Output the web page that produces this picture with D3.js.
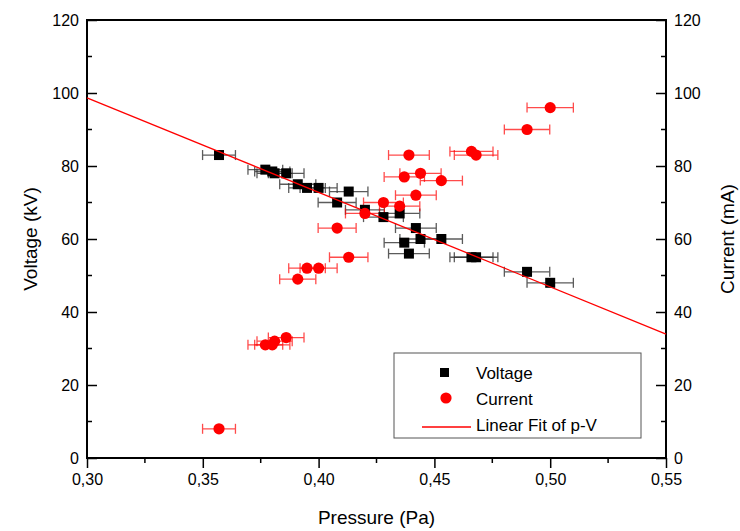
<!DOCTYPE html>
<html>
<head>
<meta charset="utf-8">
<script src="https://cdn.jsdelivr.net/npm/d3@7"></script>
<style>
  body { margin: 0; background: #fff; }
  svg { font-family: "Liberation Sans", Arial, sans-serif; }
</style>
</head>
<body>
<div id="chart"></div>
<script>
(function () {
    'use strict'

    var pressure = [0.357, 0.377, 0.380, 0.381, 0.386, 0.391, 0.395, 0.400, 0.408, 0.413, 0.420,
                    0.428, 0.435, 0.437, 0.439, 0.442, 0.444, 0.453, 0.466, 0.468, 0.490, 0.500]
    var voltage = [83, 79, 78.5, 78, 78, 75, 74, 74, 70, 73, 68, 66, 67, 59, 56, 63, 60, 60, 55, 55, 51, 48]
    var current = [8, 31, 31, 32, 33, 49, 52, 52, 63, 55, 67, 70, 69, 77, 83, 72, 78, 76, 84, 83, 90, 96]
    var pressureErr = [0.0071, 0.0075, 0.0076, 0.0076, 0.0077, 0.0078, 0.0079, 0.0080, 0.0082, 0.0083, 0.0084,
                       0.0086, 0.0087, 0.0087, 0.0088, 0.0088, 0.0089, 0.0091, 0.0093, 0.0094, 0.0098, 0.0100]

    // linear fit of p-V
    var fitIntercept = 176.3
    var fitSlope = -258.8

    var xTicks = [0.30, 0.35, 0.40, 0.45, 0.50, 0.55]
    var yTicks = [0, 20, 40, 60, 80, 100, 120]

    var width = 740, height = 531
    var margin = { top: 20, right: 74, bottom: 73, left: 87 }

    var svg = d3.select('#chart').append('svg')
        .attr('width', width)
        .attr('height', height)

    var x = d3.scaleLinear().domain([0.30, 0.55]).range([margin.left, width - margin.right])
    var yV = d3.scaleLinear().domain([0, 120]).range([height - margin.bottom, margin.top])
    var yI = d3.scaleLinear().domain([0, 120]).range([height - margin.bottom, margin.top])

    var comma = d3.formatLocale({ decimal: ',', thousands: '.', grouping: [3], currency: ['', ''] })
    var fmtX = comma.format('.2f')

    var x0 = margin.left, x1 = width - margin.right
    var y0 = height - margin.bottom, y1 = margin.top

    // frame
    svg.append('rect')
        .attr('x', x0).attr('y', y1)
        .attr('width', x1 - x0).attr('height', y0 - y1)
        .attr('fill', 'none').attr('stroke', '#000').attr('stroke-width', 2)

    // bottom axis (ticks out)
    var xAxis = d3.axisBottom(x).tickValues(xTicks).tickFormat(fmtX).tickSize(10).tickPadding(6)
    var gx = svg.append('g').attr('transform', 'translate(0,' + y0 + ')').call(xAxis)
    gx.append('g').selectAll('line')
        .data(d3.range(0.325, 0.55, 0.05))
        .enter().append('line')
        .attr('x1', function (d) { return x(d) }).attr('x2', function (d) { return x(d) })
        .attr('y1', 0).attr('y2', 5)
        .attr('stroke', '#000').attr('stroke-width', 1.5)

    // left axis (ticks in)
    var yAxisL = d3.axisLeft(yV).tickValues(yTicks).tickSize(-10).tickPadding(10)
    var gyl = svg.append('g').attr('transform', 'translate(' + x0 + ',0)').call(yAxisL)
    gyl.append('g').selectAll('line')
        .data(d3.range(10, 120, 20))
        .enter().append('line')
        .attr('y1', function (d) { return yV(d) }).attr('y2', function (d) { return yV(d) })
        .attr('x1', 0).attr('x2', 5)
        .attr('stroke', '#000').attr('stroke-width', 1.5)

    // right axis (ticks in)
    var yAxisR = d3.axisRight(yI).tickValues(yTicks).tickSize(-10).tickPadding(10)
    var gyr = svg.append('g').attr('transform', 'translate(' + x1 + ',0)').call(yAxisR)
    gyr.append('g').selectAll('line')
        .data(d3.range(10, 120, 20))
        .enter().append('line')
        .attr('y1', function (d) { return yI(d) }).attr('y2', function (d) { return yI(d) })
        .attr('x1', 0).attr('x2', -5)
        .attr('stroke', '#000').attr('stroke-width', 1.5)

    svg.selectAll('.domain').remove()
    svg.selectAll('.tick line').attr('stroke-width', 1.5)
    svg.selectAll('.tick text')
        .attr('font-size', 16)
        .attr('font-family', '"Liberation Sans", Arial, sans-serif')
        .attr('fill', '#000')
    gyl.selectAll('.tick text').attr('x', -8)
    gyr.selectAll('.tick text').attr('x', 8)

    // axis titles
    svg.append('text')
        .attr('x', (x0 + x1) / 2).attr('y', 524)
        .attr('text-anchor', 'middle').attr('font-size', 19)
        .text('Pressure (Pa)')
    svg.append('text')
        .attr('transform', 'translate(37,' + (y0 + y1) / 2 + ') rotate(-90)')
        .attr('text-anchor', 'middle').attr('font-size', 19)
        .text('Voltage (kV)')
    svg.append('text')
        .attr('transform', 'translate(734,' + (y0 + y1) / 2 + ') rotate(-90)')
        .attr('text-anchor', 'middle').attr('font-size', 19)
        .text('Current (mA)')

    var rows = pressure.map(function (p, i) {
        return { p: p, v: voltage[i], c: current[i], e: pressureErr[i] }
    })

    function errorBars(g, yScale, key, color, opacity) {
        var eb = g.selectAll('g').data(rows).enter().append('g')
            .attr('stroke', color).attr('stroke-width', 1.3).attr('opacity', opacity)
        eb.append('line')
            .attr('x1', function (d) { return x(d.p - d.e) })
            .attr('x2', function (d) { return x(d.p + d.e) })
            .attr('y1', function (d) { return yScale(d[key]) })
            .attr('y2', function (d) { return yScale(d[key]) })
        eb.append('line')
            .attr('x1', function (d) { return x(d.p - d.e) })
            .attr('x2', function (d) { return x(d.p - d.e) })
            .attr('y1', function (d) { return yScale(d[key]) - 5 })
            .attr('y2', function (d) { return yScale(d[key]) + 5 })
        eb.append('line')
            .attr('x1', function (d) { return x(d.p + d.e) })
            .attr('x2', function (d) { return x(d.p + d.e) })
            .attr('y1', function (d) { return yScale(d[key]) - 5 })
            .attr('y2', function (d) { return yScale(d[key]) + 5 })
    }

    errorBars(svg.append('g'), yV, 'v', '#333', 0.8)
    errorBars(svg.append('g'), yI, 'c', '#f00', 0.7)

    // voltage squares
    svg.append('g').selectAll('rect')
        .data(rows).enter().append('rect')
        .attr('x', function (d) { return x(d.p) - 5 })
        .attr('y', function (d) { return yV(d.v) - 5 })
        .attr('width', 10).attr('height', 10)
        .attr('fill', '#000')

    // current circles
    svg.append('g').selectAll('circle')
        .data(rows).enter().append('circle')
        .attr('cx', function (d) { return x(d.p) })
        .attr('cy', function (d) { return yI(d.c) })
        .attr('r', 5.6)
        .attr('fill', '#f00')

    // fit line
    svg.append('line')
        .attr('x1', x(0.30)).attr('y1', yV(fitIntercept + fitSlope * 0.30))
        .attr('x2', x(0.55)).attr('y2', yV(fitIntercept + fitSlope * 0.55))
        .attr('stroke', '#f00').attr('stroke-width', 1.3)

    // legend
    var lg = svg.append('g').attr('transform', 'translate(394,353)')
    lg.append('rect')
        .attr('width', 247).attr('height', 85)
        .attr('fill', '#fff').attr('stroke', '#555').attr('stroke-width', 1)
    lg.append('rect').attr('x', 46).attr('y', 15).attr('width', 9).attr('height', 9).attr('fill', '#000')
    lg.append('circle').attr('cx', 52).attr('cy', 45).attr('r', 5.6).attr('fill', '#f00')
    lg.append('line').attr('x1', 28).attr('x2', 77).attr('y1', 74).attr('y2', 74)
        .attr('stroke', '#f00').attr('stroke-width', 1.3)
    var labels = ['Voltage', 'Current', 'Linear Fit of p-V']
    lg.selectAll('text.lbl').data(labels).enter().append('text')
        .attr('class', 'lbl')
        .attr('x', 82)
        .attr('y', function (d, i) { return 26 + i * 26 })
        .attr('font-size', 17)
        .text(function (d) { return d })
})()
</script>
</body>
</html>
